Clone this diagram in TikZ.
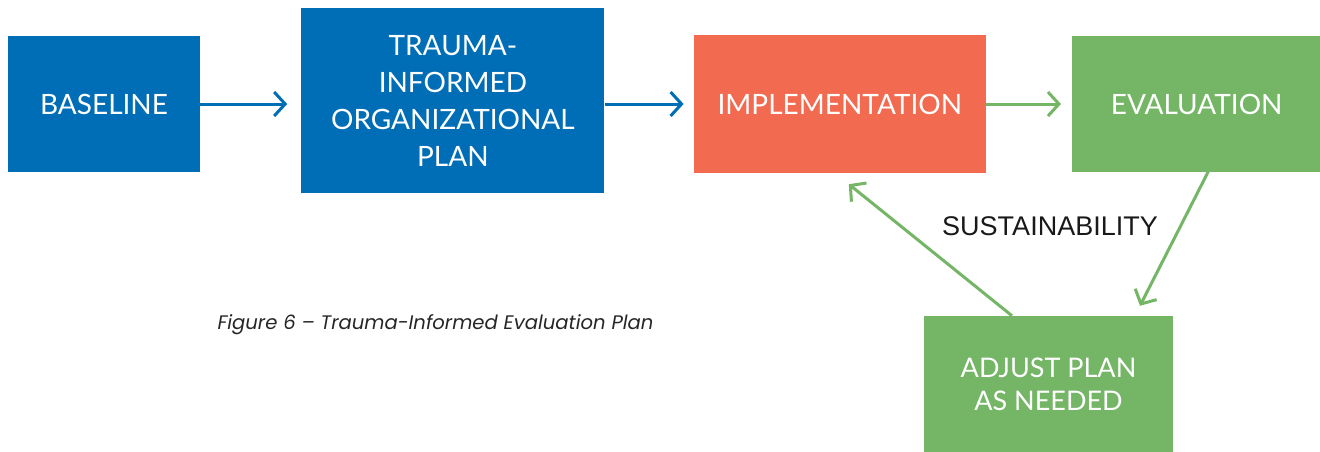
\documentclass[tikz,border=0pt]{standalone}
\usepackage{fontspec}
\setmainfont{Lato}
\newfontfamily\capfont{Poppins}
\newfontfamily\labfont{Liberation Sans}
\usetikzlibrary{arrows.meta, positioning, calc}
\definecolor{planblue}{RGB}{0,109,183}
\definecolor{implred}{RGB}{242,107,80}
\definecolor{evalgreen}{RGB}{116,181,102}
\tikzset{
  >={Straight Barb[length=11pt,width=24pt]},
  stagebox/.style={fill=#1, text=white, align=center, inner sep=0pt,
    font=\fontsize{28}{37}\selectfont},
  flow/.style={->, line width=3pt, draw=#1}
}

\begin{document}
\begin{tikzpicture}[x=1pt, y=-1pt]
    \useasboundingbox (0,0) rectangle (1320,452);

    \node[stagebox=planblue, minimum width=192pt, minimum height=136pt] (base) at (104,104) {BASELINE};
    \node[stagebox=planblue, minimum width=303pt, minimum height=185pt] (plan) [right=101pt of base, yshift=3.5pt] {TRAUMA-\\INFORMED\\ORGANIZATIONAL\\PLAN};
    \node[stagebox=implred, minimum width=292pt, minimum height=138pt] (impl) [right=89pt of base -| plan.east] {IMPLEMENTATION};
    \node[stagebox=evalgreen, minimum width=249pt, minimum height=135pt] (eval) [right=86pt of impl] {EVALUATION};
    \node[stagebox=evalgreen, minimum width=249pt, minimum height=136pt,
      font=\fontsize{27}{33}\selectfont] (adj) at (1048.5,384) {ADJUST PLAN\\AS NEEDED};

    \node[font=\labfont\fontsize{27}{30}\selectfont, text=black!90] (sust) at (1050,226) {SUSTAINABILITY};
    \node[font=\capfont\itshape\fontsize{19.6}{22}\selectfont, text=black!85] (cap) at (435.5,325) {Figure 6 – Trauma-Informed Evaluation Plan};

    % flow of the plan
    \draw[flow=planblue, shorten >=14pt] (base) -- (base -| plan.west);
    \draw[flow=planblue, shorten >=10pt] (base -| plan.east) -- (impl);
    \draw[flow=evalgreen, shorten >=11pt] (impl) -- (eval);

    % sustainability loop
    \draw[flow=evalgreen] ($(eval.south)+(11.5,0)$) -- ($(adj.north)+(91.5,-10)$);
    \draw[flow=evalgreen] ($(adj.north)+(-36.5,0)$) -- ($(impl.south)+(9,11)$);
  \end{tikzpicture}
\end{document}
